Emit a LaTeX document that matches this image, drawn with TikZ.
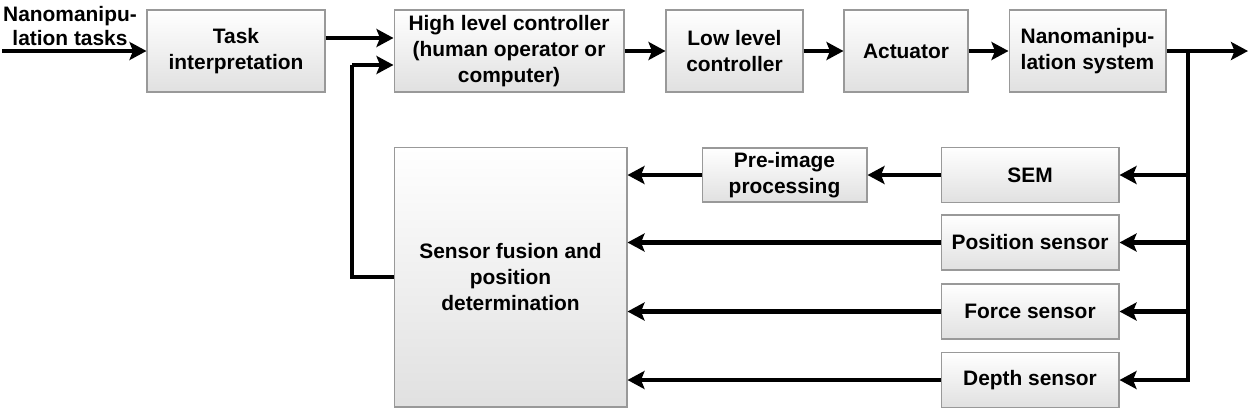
\documentclass[tikz,border=0pt]{standalone}
\usepackage{fontspec}
\setmainfont{Liberation Sans}
\usepackage{tikz}
\usetikzlibrary{arrows.meta,calc}

\tikzset{
  block/.style={draw=black!40, line width=0.6pt, top color=white, bottom color=black!12,
    align=center, inner sep=1pt, font=\fontsize{11.9}{14.6}\selectfont\bfseries},
  link/.style={line width=2.3pt, -{Stealth[length=0.34cm,width=0.36cm,inset=0.07cm]}},
  wire/.style={line width=2.3pt}
}

\begin{document}
\begin{tikzpicture}[x=0.02cm,y=-0.02cm]
  \useasboundingbox (0,0) rectangle (1250,410);

  % forward path
  \node[block, minimum width=3.56cm, minimum height=1.64cm] (task) at (236,51) {Task\\interpretation};
  \node[block, minimum width=4.6cm, minimum height=1.64cm] (high) at (509,51) {High level controller\\(human operator or\\computer)};
  \node[block, minimum width=2.74cm, minimum height=1.64cm] (low) at (734.5,51) {Low level\\controller};
  \node[block, minimum width=2.48cm, minimum height=1.64cm] (act) at (906,51) {Actuator};
  \node[block, minimum width=3.14cm, minimum height=1.64cm] (nano) at (1087.5,51) {Nanomanipu-\\lation system};

  % sensors
  \node[block, minimum width=3.56cm, minimum height=1.1cm] (sem) at (1030,175) {SEM};
  \node[block, minimum width=3.56cm, minimum height=1.1cm] (pos) at (1030,242.5) {Position sensor};
  \node[block, minimum width=3.56cm, minimum height=1.1cm] (force) at (1030,311.5) {Force sensor};
  \node[block, minimum width=3.56cm, minimum height=1.1cm] (depth) at (1030,380) {Depth sensor};
  \node[block, minimum width=3.3cm, minimum height=1.08cm] (pre) at (784.5,175) {Pre-image\\processing};
  \node[block, minimum width=4.66cm, minimum height=5.2cm] (fusion) at (510.5,277) {Sensor fusion and\\position\\determination};

  \node[align=center, font=\fontsize{11.9}{13.8}\selectfont\bfseries] (tasks) at (70,26) {Nanomanipu-\\lation tasks};

  \coordinate (in) at (2,51);
  \coordinate (out) at (1248,51);
  \coordinate (bus) at (1188,51);
  \coordinate (fb) at (352,65);

  \draw[link] (in) -- (task.west);
  \draw[link] ($(task.east)+(0,-13)$) -- ($(high.west)+(0,-13)$);
  \draw[link] (high) -- (low);
  \draw[link] (low) -- (act);
  \draw[link] (act) -- (nano);
  \draw[link] (nano.east) -- (out);

  % feedback
  \draw[link] (bus) |- (depth.east);
  \foreach \s in {sem,pos,force}
    \draw[link] (bus |- \s.east) -- (\s.east);
  \draw[link] (sem) -- (pre);
  \draw[link] (pre.west) -- (pre.west -| fusion.east);
  \draw[link] (pos.west) -- (pos.west -| fusion.east);
  \draw[link] (force.west) -- (force.west -| fusion.east);
  \draw[link] (depth.west) -- (depth.west -| fusion.east);
  \draw[wire] (fusion.west) -| (fb);
  \draw[link] (fb) -- (fb -| high.west);
\end{tikzpicture}
\end{document}
